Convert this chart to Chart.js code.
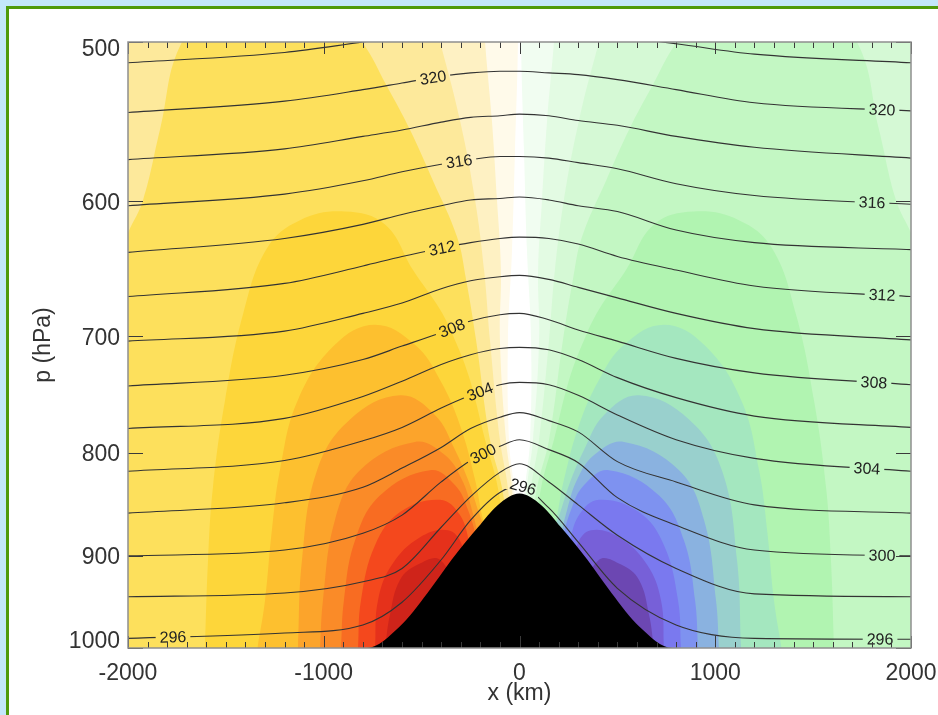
<!DOCTYPE html>
<html>
<head>
<meta charset="utf-8">
<script src="https://cdn.jsdelivr.net/npm/chart.js@4.4.1/dist/chart.umd.min.js"></script>
<style>
  html, body { margin: 0; padding: 0; overflow: hidden; background: #c3e7fa; }
  #panel { position: absolute; left: 6px; top: 6px; width: 1000px; height: 800px; background: #fff;
           border-left: 3px solid #4f9a0b; border-top: 3px solid #4f9a0b; }
  #chart { position: absolute; left: 0; top: 0; }
</style>
</head>
<body>
<div id="panel"></div>
<canvas id="chart" width="938" height="715"></canvas>
<script>
// isentropes: pressure (hPa) of each theta surface at these x positions (km)
const xKm = [-2000, -1200, -800, -600, -400, -250, -100, 0, 150, 300, 500, 800, 1200, 2000];
const thetaLevels = [296, 298, 300, 302, 304, 306, 308, 310, 312, 314, 316, 318, 320, 322];
const isentropeP = [
  [989, 983, 974, 949, 904, 864, 837, 831, 852, 886, 934, 974, 989, 990],
  [943, 939, 927, 913, 871, 841, 818, 810, 827, 849, 879, 913, 940, 943],
  [900, 894, 877, 859, 827, 807, 794, 788, 797, 809, 842, 869, 894, 900],
  [857, 847, 832, 814, 795, 778, 768, 764, 771, 781, 808, 827, 849, 857],
  [817, 807, 789, 777, 760, 749, 740, 738, 740, 749, 766, 788, 805, 817],
  [778, 769, 750, 737, 723, 715, 710, 709, 711, 719, 734, 751, 767, 777],
  [741, 732, 719, 708, 697, 688, 683, 682, 687, 695, 704, 718, 730, 740],
  [704, 696, 682, 674, 663, 657, 654, 653, 656, 662, 670, 682, 694, 703],
  [669, 659, 646, 639, 633, 629, 626, 625, 626, 630, 639, 649, 661, 669],
  [636, 626, 616, 609, 603, 599, 598, 597, 599, 603, 607, 620, 629, 634],
  [603, 595, 586, 580, 575, 572, 570, 570, 571, 574, 578, 588, 596, 602],
  [572, 565, 557, 553, 548, 545, 544, 543, 544, 547, 550, 557, 564, 571],
  [542, 535, 528, 524, 520, 518, 517, 517, 518, 519, 522, 528, 536, 541],
  [512, 506, 500, 497, 495, 494, 493, 493, 494, 495, 497, 501, 507, 512]
];

// mountain profile
const mountainX = [-900, -780, -613, -470, -347, -212, -110, 0, 110, 212, 347, 470, 613, 780, 900];
const mountainP = [1000, 1000, 976, 939, 904, 871, 849, 838, 849, 871, 904, 939, 976, 1000, 1000];

// shaded levels, upwind side [x km, p hPa]; the lee side is the mirror image
const shadeBounds = [
  [[-2347, 445], [-74, 445], [-13, 477], [-8, 500], [-23, 566], [-38, 634], [-59, 703], [-54, 788], [-28, 833], [0, 904]],
  [[-2347, 445], [-227, 445], [-187, 477], [-176, 500], [-141, 547], [-115, 599], [-95, 649], [-100, 703], [-69, 788], [-38, 833], [-18, 904]],
  [[-2347, 445], [-559, 445], [-467, 477], [-406, 500], [-304, 547], [-227, 599], [-181, 649], [-151, 703], [-100, 788], [-59, 833], [-28, 904]],
  [[-2347, 1000], [-2143, 672], [-2000, 622], [-1923, 599], [-1837, 553], [-1724, 500], [-1479, 474], [-1249, 466], [-1019, 474], [-805, 500], [-677, 526], [-559, 553], [-442, 586], [-319, 625], [-273, 656], [-222, 703], [-151, 788], [-89, 833], [-38, 904]],
  [[-1607, 1000], [-1591, 904], [-1566, 832], [-1504, 753], [-1413, 683], [-1290, 633], [-1121, 613], [-891, 607], [-687, 616], [-544, 649], [-406, 679], [-330, 703], [-253, 736], [-176, 788], [-110, 833], [-59, 904]],
  [[-1339, 1000], [-1300, 947], [-1265, 874], [-1224, 816], [-1132, 753], [-943, 707], [-738, 691], [-534, 707], [-406, 736], [-304, 775], [-227, 825], [-186, 864], [-125, 904]],
  [[-1132, 1000], [-1111, 904], [-1034, 816], [-866, 770], [-610, 749], [-432, 766], [-330, 797], [-263, 825], [-212, 854], [-125, 904]],
  [[-1019, 1000], [-1004, 947], [-943, 864], [-815, 816], [-534, 790], [-381, 802], [-294, 825], [-243, 854], [-202, 889], [-151, 947]],
  [[-912, 1000], [-897, 947], [-840, 884], [-713, 840], [-457, 816], [-330, 830], [-263, 854], [-212, 889], [-151, 947]],
  [[-825, 1000], [-810, 947], [-738, 889], [-610, 856], [-406, 844], [-304, 859], [-253, 889], [-176, 947]],
  [[-738, 1000], [-723, 947], [-651, 909], [-508, 881], [-365, 874], [-294, 889], [-227, 947]],
  [[-687, 1000], [-662, 963], [-610, 925], [-519, 909], [-406, 904], [-304, 947]]
];

const xTicks = [-2000, -1000, 0, 1000, 2000];
const pTicks = [500, 600, 700, 800, 900, 1000];

// contour labels: which line, and where along x (km)
const labelTheta = [320, 316, 312, 308, 304, 300, 296, 320, 316, 312, 308, 304, 300, 296, 296];
const labelX = [-442, -309, -396, -345, -202, -186, 18, 1852, 1801, 1852, 1811, 1775, 1852, 1842, -1770];

const warmShades = ['#fffaea', '#fef1c3', '#fde99b', '#fde05c', '#fdd63a', '#fdc02f',
                    '#fca42b', '#fa8b28', '#f86c22', '#f4481d', '#e5311b', '#cf241a'];
const coolShades = ['#f1fdf1', '#e3fbe3', '#d5f9d5', '#c3f7c3', '#b1f4b1', '#a4e7bf',
                    '#99d0cd', '#8ab2e0', '#7e92f0', '#7a79ef', '#7760d8', '#6c47b2'];
const FONT = '"Liberation Sans", Arial, Helvetica, sans-serif';

let datasets = [];

shadeBounds.forEach(function (bound, k) {
  datasets.push({
    data: bound.map(pt => ({x: pt[0], y: pt[1]})),
    backgroundColor: warmShades[k], fill: {value: 1000}, borderWidth: 0, tension: 0.4, order: 100 - k
  });
  datasets.push({
    data: bound.map(pt => ({x: -pt[0], y: pt[1]})),
    backgroundColor: coolShades[k], fill: {value: 1000}, borderWidth: 0, tension: 0.4, order: 100 - k
  });
});

thetaLevels.forEach(function (th, i) {
  datasets.push({
    isoTheta: th,
    data: xKm.map((x, j) => ({x: x, y: isentropeP[i][j]})),
    borderColor: '#333', borderWidth: 1.1, fill: false,
    cubicInterpolationMode: 'monotone', order: 10
  });
});

datasets.push({
  data: mountainX.map((x, j) => ({x: x, y: mountainP[j]})),
  backgroundColor: '#000', fill: {value: 1000}, borderWidth: 0,
  cubicInterpolationMode: 'monotone', order: 5
});

function isoLabels(chart) {
  const ctx = chart.ctx;
  const xs = chart.scales.x;
  ctx.save();
  ctx.font = '16px ' + FONT;
  let out = [];
  labelTheta.forEach(function (th, i) {
    const idx = chart.data.datasets.findIndex(d => d.isoTheta === th);
    const line = chart.getDatasetMeta(idx).dataset;
    line.updateControlPoints(chart.chartArea, 'x');
    const px = xs.getPixelForValue(labelX[i]);
    const c = line.interpolate({x: px}, 'x');
    const a = line.interpolate({x: px - 12}, 'x');
    const b = line.interpolate({x: px + 12}, 'x');
    if (!c || !a || !b) return;
    const w = ctx.measureText(String(th)).width;
    out.push({th: th, x: px, y: c.y, ang: Math.atan2(b.y - a.y, b.x - a.x), w: w + 8, h: 14});
  });
  ctx.restore();
  return out;
}

// break the isentropes where their labels go
const isoGapPlugin = {
  id: 'isoGap',
  beforeDatasetDraw(chart, args) {
    const th = chart.data.datasets[args.index].isoTheta;
    if (!th) return;
    const ctx = chart.ctx;
    ctx.save();
    ctx.beginPath();
    ctx.rect(0, 0, chart.width, chart.height);
    isoLabels(chart).filter(l => l.th === th).forEach(function (l) {
      const c = Math.cos(l.ang), s = Math.sin(l.ang);
      const hw = l.w / 2, hh = l.h / 2;
      const pts = [[-hw, -hh], [hw, -hh], [hw, hh], [-hw, hh]]
        .map(p => [l.x + p[0] * c - p[1] * s, l.y + p[0] * s + p[1] * c]);
      ctx.moveTo(pts[0][0], pts[0][1]);
      pts.slice(1).forEach(p => ctx.lineTo(p[0], p[1]));
      ctx.closePath();
    });
    ctx.clip('evenodd');
  },
  afterDatasetDraw(chart, args) {
    if (chart.data.datasets[args.index].isoTheta) chart.ctx.restore();
  }
};

const axesPlugin = {
  id: 'axes',
  afterDatasetsDraw(chart) {
    const {ctx, chartArea: a, scales} = chart;
    const xs = scales.x, ys = scales.y;
    ctx.save();

    ctx.fillStyle = '#222';
    ctx.font = '16px ' + FONT;
    ctx.textAlign = 'center';
    ctx.textBaseline = 'middle';
    isoLabels(chart).forEach(function (l) {
      ctx.save();
      ctx.translate(l.x, l.y);
      ctx.rotate(l.ang);
      ctx.fillText(String(l.th), 0, 1);
      ctx.restore();
    });

    ctx.strokeStyle = '#3a3a3a';
    ctx.lineWidth = 1;
    ctx.beginPath();
    for (let v = -2000; v <= 2000; v += 100) {
      const px = Math.round(xs.getPixelForValue(v)) + 0.5;
      const len = v % 1000 === 0 ? 12 : 6;
      ctx.moveTo(px, a.bottom); ctx.lineTo(px, a.bottom - len);
      ctx.moveTo(px, a.top); ctx.lineTo(px, a.top + len);
    }
    pTicks.forEach(function (v) {
      const py = Math.round(ys.getPixelForValue(v)) + 0.5;
      ctx.moveTo(a.left, py); ctx.lineTo(a.left + 15, py);
      ctx.moveTo(a.right, py); ctx.lineTo(a.right - 15, py);
    });
    ctx.stroke();

    ctx.strokeStyle = '#8f8f8f';
    ctx.lineWidth = 1.5;
    ctx.strokeRect(a.left, a.top, a.right - a.left, a.bottom - a.top);

    ctx.fillStyle = '#333';
    ctx.font = '23px ' + FONT;
    ctx.textBaseline = 'alphabetic';
    ctx.textAlign = 'right';
    pTicks.forEach(function (v) {
      const py = Math.min(Math.max(ys.getPixelForValue(v), a.top + 5), a.bottom - 9);
      ctx.fillText(String(v), a.left - 8, py + 8.5);
    });
    ctx.textAlign = 'center';
    xTicks.forEach(v => ctx.fillText(String(v), xs.getPixelForValue(v), a.bottom + 32));
    ctx.fillText('x (km)', (a.left + a.right) / 2, a.bottom + 52);
    ctx.save();
    ctx.translate(a.left - 78, (a.top + a.bottom) / 2);
    ctx.rotate(-Math.PI / 2);
    ctx.fillText('p (hPa)', 0, 0);
    ctx.restore();

    ctx.restore();
  }
};

new Chart(document.getElementById('chart'), {
  type: 'line',
  data: { datasets: datasets },
  options: {
    responsive: false,
    animation: false,
    devicePixelRatio: 1,
    events: [],
    layout: { padding: { left: 128, top: 42, right: 27, bottom: 67 } },
    elements: { point: { radius: 0 }, line: { capBezierPoints: false } },
    scales: {
      x: { type: 'linear', min: -2000, max: 2000, display: false },
      y: { type: 'logarithmic', min: 500, max: 1000, reverse: true, display: false }
    },
    plugins: { legend: { display: false }, tooltip: { enabled: false } }
  },
  plugins: [isoGapPlugin, axesPlugin]
});
</script>
</body>
</html>
